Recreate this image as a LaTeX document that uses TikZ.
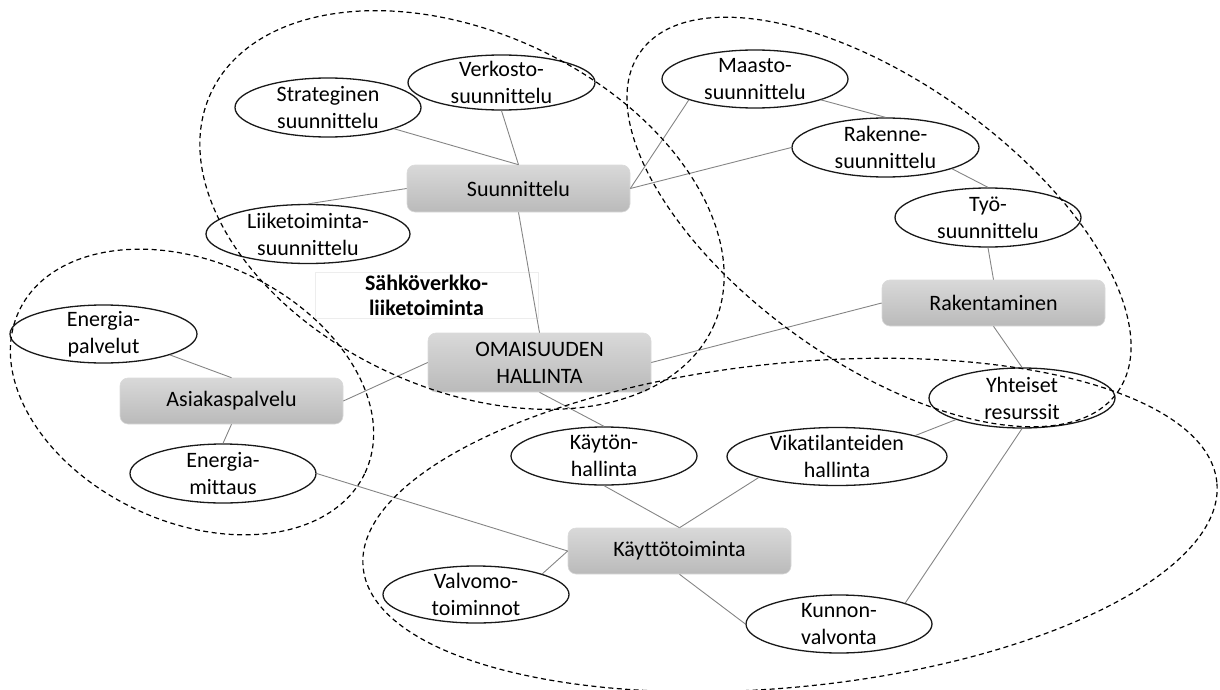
\documentclass[tikz,border=0pt]{standalone}
\usepackage{fontspec}
\setmainfont{Carlito}[Ligatures={NoCommon}]
\usetikzlibrary{shapes.geometric}
\newcommand\labelfont{\fontsize{22}{27}\selectfont}
\tikzset{
  topic/.style={ellipse, draw=black!90, line width=1.3pt, fill=white,
    inner xsep=0pt, inner ysep=-14pt, align=center, font=\labelfont},
  area/.style={rounded corners=8pt, top color=black!15, bottom color=black!27,
    draw=black!15, line width=0.6pt, minimum width=223pt, inner sep=0pt,
    align=center, font=\labelfont},
  link/.style={draw=black!48, line width=0.9pt},
  group/.style={draw=black, line width=1.2pt, dash pattern=on 5pt off 3.5pt},
}
\begin{document}
\begin{tikzpicture}[x=1pt, y=-1pt]
\useasboundingbox (0,0) rectangle (1220,690);

% title box
\node[draw=black!7, fill=white, line width=0.6pt, minimum width=223pt,
  minimum height=46pt, inner sep=0pt, align=center,
  font=\fontsize{22}{25}\selectfont\bfseries] (title) at (426.5,295)
  {Sähköverkko-\\liiketoiminta};

% main areas
\node[area, minimum height=47pt] (suun)  at (518.5,188.5) {Suunnittelu};
\node[area, minimum height=59pt] (omai)  at (539.5,362.5) {OMAISUUDEN\\HALLINTA};
\node[area, minimum height=46pt] (rak)   at (993.5,303)   {Rakentaminen};
\node[area, minimum height=46pt] (asiak) at (231.5,401)   {Asiakaspalvelu};
\node[area, minimum height=46pt] (kt)    at (679.5,551)   {Käyttötoiminta};

% topics
\node[topic, minimum width=186pt, minimum height=59pt] (strat)   at (328,107.5)   {Strateginen\\suunnittelu};
\node[topic, minimum width=187pt, minimum height=55pt] (verk)    at (501.5,82.5)  {Verkosto-\\suunnittelu};
\node[topic, minimum width=204pt, minimum height=59pt] (liike)   at (308,234)     {Liiketoiminta-\\suunnittelu};
\node[topic, minimum width=186pt, minimum height=58pt] (maasto)  at (755,79)      {Maasto-\\suunnittelu};
\node[topic, minimum width=187pt, minimum height=59pt] (rakenne) at (885.5,147.5) {Rakenne-\\suunnittelu};
\node[topic, minimum width=186pt, minimum height=59pt] (tyo)     at (988,217.5)   {Työ-\\suunnittelu};
\node[topic, minimum width=186pt, minimum height=60pt] (yht)     at (1022,398)    {Yhteiset\\resurssit};
\node[topic, minimum width=220pt, minimum height=58pt] (vika)    at (837,456.5)   {Vikatilanteiden\\hallinta};
\node[topic, minimum width=186pt, minimum height=58pt] (kayton)  at (604,456)     {Käytön-\\hallinta};
\node[topic, minimum width=187pt, minimum height=58pt] (epalv)   at (103.5,334)   {Energia-\\palvelut};
\node[topic, minimum width=186pt, minimum height=59pt] (emitt)   at (223,473.5)   {Energia-\\mittaus};
\node[topic, minimum width=186pt, minimum height=57pt] (valv)    at (476,594.5)   {Valvomo-\\toiminnot};
\node[topic, minimum width=186pt, minimum height=58pt] (kunnon)  at (839,624)     {Kunnon-\\valvonta};

% connectors
\draw[link] (strat.south east) -- (suun.north);
\draw[link] (verk.south) -- (suun.north);
\draw[link] (liike.north) -- (suun.west);
\draw[link] (suun.south) -- (omai.north);
\draw[link] (maasto.south west) -- (suun.east);
\draw[link] (rakenne.west) -- (suun.east);
\draw[link] (maasto.south east) -- (rakenne.north);
\draw[link] (rakenne.south east) -- (tyo.north);
\draw[link] (tyo.south) -- (rak.north);
\draw[link] (rak.west) -- (omai.east);
\draw[link] (rak.south) -- (yht.north);
\draw[link] (yht.south west) -- (vika.north east);
\draw[link] (yht.south) -- (kunnon.north east);
\draw[link] (omai.west) -- (asiak.east);
\draw[link] (omai.south) -- (kayton.north);
\draw[link] (epalv.south east) -- (asiak.north);
\draw[link] (asiak.south) -- (emitt.north);
\draw[link] (emitt.east) -- (kt.west);
\draw[link] (kayton.south) -- (kt.north);
\draw[link] (vika.south west) -- (kt.north);
\draw[link] (valv.north east) -- (kt.west);
\draw[link] (kt.south) -- (kunnon.west);

% dashed groupings
\draw[group, rotate around={-25:(462,210)}] (462,210) ellipse [x radius=277pt, y radius=178pt];
\draw[group, rotate around={-35.5:(879,222)}] (879,222) ellipse [x radius=293pt, y radius=140pt];
\draw[group, rotate around={-25:(192,392)}] (192,392) ellipse [x radius=191pt, y radius=130pt];
\draw[group, rotate around={5.7:(790,525)}] (790,525) ellipse [x radius=429pt, y radius=162pt];
\end{tikzpicture}
\end{document}
